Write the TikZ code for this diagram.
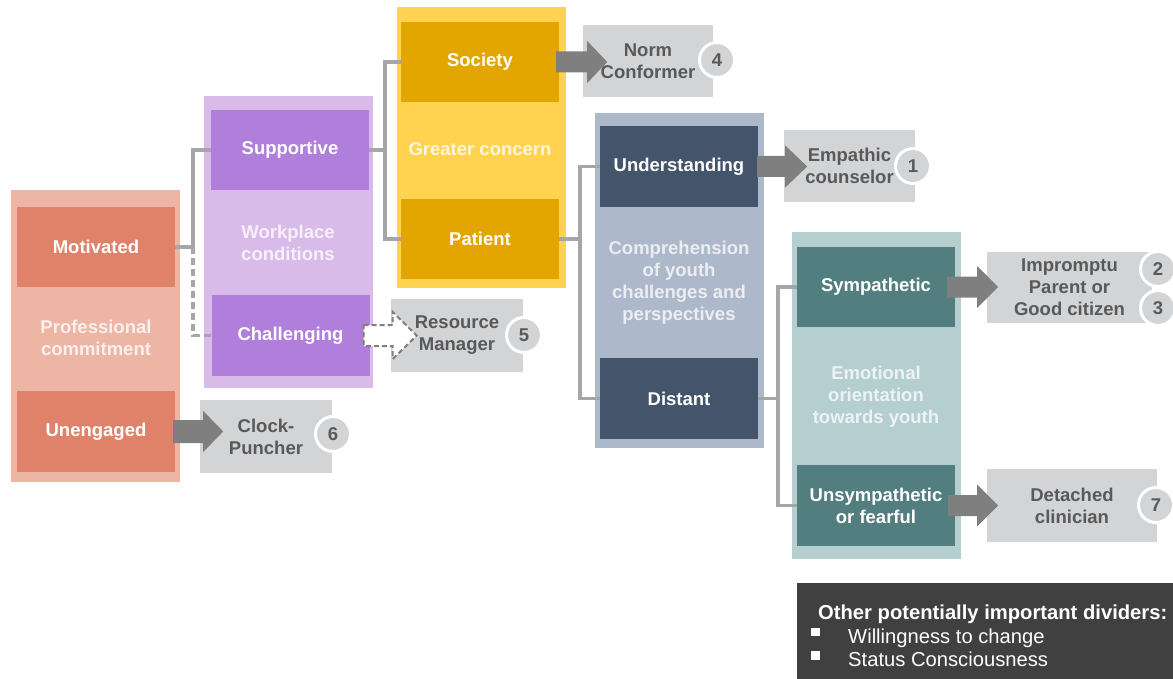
\documentclass[tikz,border=0pt]{standalone}
\usepackage{fontspec}
\setmainfont{Liberation Sans}
\usetikzlibrary{calc}
\definecolor{orOut}{HTML}{EDB5A3}
\definecolor{orIn}{HTML}{E0826A}
\definecolor{puOut}{HTML}{D9BBEA}
\definecolor{puIn}{HTML}{B07EDB}
\definecolor{yeOut}{HTML}{FFD24F}
\definecolor{yeIn}{HTML}{E3A600}
\definecolor{blOut}{HTML}{ADB9CB}
\definecolor{blIn}{HTML}{44546A}
\definecolor{teOut}{HTML}{B5CFD1}
\definecolor{teIn}{HTML}{527E7F}
\definecolor{resGray}{HTML}{D3D4D6}
\definecolor{resText}{HTML}{595959}
\definecolor{arrGray}{HTML}{7F7F7F}
\definecolor{conGray}{HTML}{A6A6A6}
\definecolor{legGray}{HTML}{404040}
\newcommand\lblfont{\fontsize{18.5}{22}\selectfont\bfseries}
\newcommand\legfont{\fontsize{20.2}{23}\selectfont}
\begin{document}
\begin{tikzpicture}[x=1pt,y=-1pt,
  outerbox/.style={inner sep=0pt, minimum width=169pt},
  innerbox/.style={inner sep=0pt, minimum width=158pt, minimum height=80pt, text=white, font=\lblfont, align=center},
  grouplabel/.style={font=\lblfont, align=center, inner sep=0pt},
  resbox/.style={fill=resGray, inner sep=0pt, text=resText, font=\lblfont, align=center},
  badge/.style={circle, fill=resGray, draw=white, line width=3pt, minimum size=35pt, inner sep=0pt, text=resText, font=\lblfont},
  conn/.style={draw=conGray, line width=3.5pt},
  blockarrow/.style={fill=arrGray},
  bullet/.style={fill=white, minimum size=8.5pt, inner sep=0pt},
]
\useasboundingbox (0,0) rectangle (1173,679);

% ---- group boxes
\node[outerbox, fill=orOut, minimum height=291pt] (gOrange) at (95.5,336) {};
\node[outerbox, fill=puOut, minimum height=292pt] (gPurple) at (288,242) {};
\node[outerbox, fill=yeOut, minimum height=280pt] (gYellow) at (481.5,147.5) {};
\node[outerbox, fill=blOut, minimum height=335pt] (gBlue) at (679,280.5) {};
\node[outerbox, fill=teOut, minimum height=327pt] (gTeal) at (876.5,395.5) {};

% ---- group labels
\node[grouplabel, text=white!80!orOut] (lOrange) at (96,338) {Professional\\commitment};
\node[grouplabel, text=white!78!puOut] (lPurple) at (288,243) {Workplace\\conditions};
\node[grouplabel, text=white!80!yeOut] (lYellow) at (480,149) {Greater concern};
\node[grouplabel, text=white!75!blOut] (lBlue) at (679,283) {Comprehension\\of youth\\challenges and\\perspectives};
\node[grouplabel, text=white!75!teOut] (lTeal) at (876,396.5) {Emotional\\orientation\\towards youth};

% ---- inner boxes
\node[innerbox, fill=orIn] (motivated) at (96,247) {Motivated};
\node[innerbox, fill=orIn, minimum height=81pt] (unengaged) at (96,431.5) {Unengaged};
\node[innerbox, fill=puIn] (supportive) at (290,150) {Supportive};
\node[innerbox, fill=puIn, minimum height=81pt] (challenging) at (290.5,335.5) {Challenging};
\node[innerbox, fill=yeIn] (society) at (480,62) {Society};
\node[innerbox, fill=yeIn] (patient) at (480,239) {Patient};
\node[innerbox, fill=blIn, minimum height=81pt] (understanding) at (679,166.5) {Understanding};
\node[innerbox, fill=blIn, minimum height=81pt] (distant) at (679,398.5) {Distant};
\node[innerbox, fill=teIn] (sympathetic) at (876,287) {Sympathetic};
\node[innerbox, fill=teIn, minimum height=81pt] (unsympathetic) at (876,505.5) {Unsympathetic\\or fearful};

% ---- connectors
\coordinate (j1) at ($(motivated.east)+(18,0)$);
\draw[conn] (motivated.east) -- (j1) |- (supportive.west);
\draw[conn, dash pattern=on 7pt off 4pt] (j1) |- (challenging.west);
\coordinate (j2) at ($(supportive.east)+(16,0)$);
\draw[conn] (supportive.east) -- (j2) |- (society.west);
\draw[conn] (j2) |- (patient.west);
\coordinate (j3) at ($(patient.east)+(21,0)$);
\draw[conn] (patient.east) -- (j3) |- (understanding.west);
\draw[conn] (j3) |- (distant.west);
\coordinate (j4) at ($(distant.east)+(20,0)$);
\draw[conn] (distant.east) -- (j4) |- (sympathetic.west);
\draw[conn] (j4) |- (unsympathetic.west);

% ---- result boxes
\node[resbox, minimum width=130pt, minimum height=72pt] (norm) at (648,61) {Norm\\Conformer};
\node[resbox, minimum width=131pt, minimum height=72pt] (empathic) at (849.5,166) {Empathic\\counselor};
\node[resbox, minimum width=165pt, minimum height=71pt] (impromptu) at (1069.5,287.5) {Impromptu\\Parent or\\Good citizen};
\node[resbox, minimum width=170pt, minimum height=73pt] (detached) at (1072,505.5) {Detached\\clinician};
\node[resbox, minimum width=132pt, minimum height=73pt] (resource) at (457,335.5) {Resource\\Manager};
\node[resbox, minimum width=132pt, minimum height=73pt] (clock) at (266,436.5) {Clock-\\Puncher};

% ---- badges
\node[badge] (b4) at (717,60) {4};
\node[badge] (b1) at (913,166) {1};
\node[badge] (b3) at (1158,308) {3};
\node[badge] (b2) at (1158,269) {2};
\node[badge] (b7) at (1156,505) {7};
\node[badge] (b5) at (524,335) {5};
\node[badge] (b6) at (333,434) {6};

% ---- block arrows
\path[blockarrow] (society.east) ++(-3,-10.5) -- ++(31,0) -- ++(0,-10.5) -- ++(20,21) -- ++(-20,21) -- ++(0,-10.5) -- ++(-31,0) -- cycle;
\path[blockarrow] (understanding.east) ++(-1,-10.5) -- ++(28,0) -- ++(0,-10.5) -- ++(22,21) -- ++(-22,21) -- ++(0,-10.5) -- ++(-28,0) -- cycle;
\path[blockarrow] (sympathetic.east) ++(-8,-10.5) -- ++(30,0) -- ++(0,-10.5) -- ++(21,21) -- ++(-21,21) -- ++(0,-10.5) -- ++(-30,0) -- cycle;
\path[blockarrow] (unsympathetic.east) ++(-7,-10.5) -- ++(29,0) -- ++(0,-10.5) -- ++(21,21) -- ++(-21,21) -- ++(0,-10.5) -- ++(-29,0) -- cycle;
\path[blockarrow] (unengaged.east) ++(-2,-11.5) -- ++(30,0) -- ++(0,-9) -- ++(20,20.5) -- ++(-20,20.5) -- ++(0,-9) -- ++(-30,0) -- cycle;
\path[fill=white, draw=arrGray, line width=2pt, dash pattern=on 5pt off 3pt]
  (challenging.east) ++(-6,-10.5) -- ++(29,0) -- ++(0,-13) -- ++(24,23.5) -- ++(-24,23.5) -- ++(0,-13) -- ++(-29,0) -- cycle;

% ---- legend
\node[fill=legGray, minimum width=376pt, minimum height=96pt, inner sep=0pt, anchor=north west] (legend) at (797,583) {};
\node[anchor=base west, inner sep=0pt, text=white, font=\legfont\bfseries] (legTitle) at (818,619) {Other potentially important dividers:};
\node[bullet] (bul1) at (815.5,632) {};
\node[anchor=base west, inner sep=0pt, text=white, font=\legfont] (leg1) at (848,643) {Willingness to change};
\node[bullet] (bul2) at (815.5,655.5) {};
\node[anchor=base west, inner sep=0pt, text=white, font=\legfont] (leg2) at (848,666) {Status Consciousness};
\end{tikzpicture}
\end{document}
